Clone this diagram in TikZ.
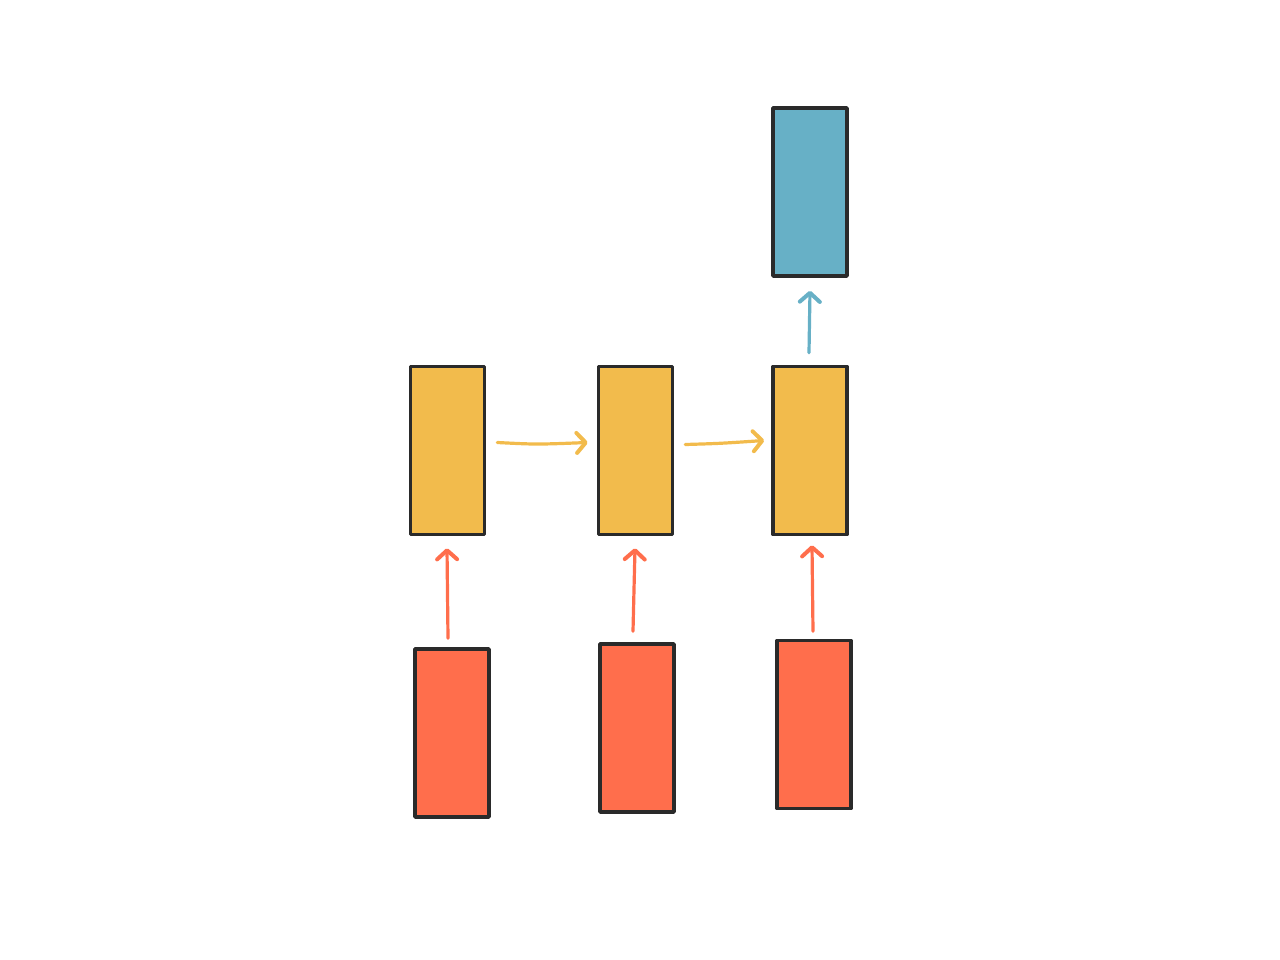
\documentclass[tikz,border=0pt]{standalone}
\usetikzlibrary{arrows.meta}
\definecolor{cblue}{HTML}{67B0C6}
\definecolor{cyel}{HTML}{F2BB4C}
\definecolor{cred}{HTML}{FF6E4C}
\definecolor{cedge}{HTML}{2A2A2A}
\begin{document}
\begin{tikzpicture}[x=1pt,y=-1pt,
  cell/.style={draw=cedge, line width=3.6pt, minimum width=74pt, minimum height=168pt, inner sep=0pt, line join=round},
  conn/.style={line width=3.2pt, line cap=round, -{Straight Barb[length=9pt,width=20pt,line width=4pt,round]}}]
\useasboundingbox (0,0) rectangle (1280,960);
\node[cell, fill=cblue] (b)  at (810,192) {};
\node[cell, fill=cyel]  (y1) at (447.5,450.5) {};
\node[cell, fill=cyel]  (y2) at (635.5,450.5) {};
\node[cell, fill=cyel]  (y3) at (810,450.5) {};
\node[cell, fill=cred]  (r1) at (452,733) {};
\node[cell, fill=cred]  (r2) at (637,728) {};
\node[cell, fill=cred]  (r3) at (814,724.5) {};
\draw[conn, draw=cyel] ([xshift=11pt,yshift=8pt]y1.east) .. controls ([xshift=50pt,yshift=6pt]y1.east) .. ([xshift=-9pt,yshift=8pt]y2.west);
\draw[conn, draw=cyel] ([xshift=11pt,yshift=6pt]y2.east) .. controls ([xshift=45pt,yshift=7pt]y2.east) .. ([xshift=-7pt,yshift=10pt]y3.west);
\draw[conn, draw=cblue] ([xshift=-1pt,yshift=12pt]y3.north) -- ([yshift=-13pt]b.south);
\draw[conn, draw=cred] ([xshift=-4pt,yshift=9pt]r1.north) -- ([xshift=-0.5pt,yshift=-12pt]y1.south);
\draw[conn, draw=cred] ([xshift=-4pt,yshift=11pt]r2.north) -- ([xshift=-0.5pt,yshift=-12pt]y2.south);
\draw[conn, draw=cred] ([xshift=-1pt,yshift=7.5pt]r3.north) -- ([xshift=2pt,yshift=-9pt]y3.south);
\end{tikzpicture}
\end{document}
